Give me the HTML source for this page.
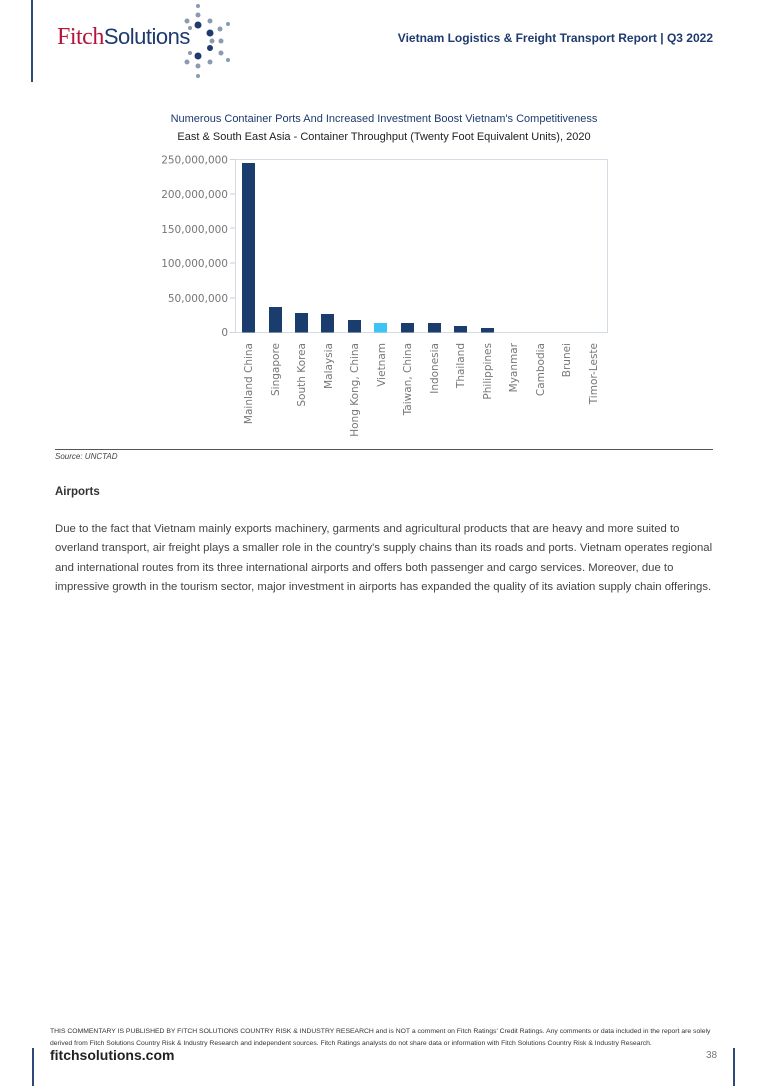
<!DOCTYPE html>
<html><head><meta charset="utf-8"><style>
body{margin:0;width:768px;height:1086px;position:relative;background:#fff;font-family:"Liberation Sans",sans-serif;overflow:hidden}
.a{position:absolute;white-space:nowrap}
</style></head><body>
<div class="a" style="left:31px;top:0;width:2px;height:82px;background:#2b4a7a"></div>
<div class="a" style="left:57px;top:24px;font-size:24px;font-family:'Liberation Serif',serif;color:#b5153c;letter-spacing:-0.5px">Fitch<span style="font-family:'Liberation Sans',sans-serif;color:#1e3a6e;font-size:22px">Solutions</span></div>
<svg class="a" style="left:178px;top:0" width="60" height="82">
<g fill="#1e3a6e"><circle cx="20" cy="25" r="3.5"/><circle cx="32" cy="33" r="3.5"/><circle cx="20" cy="56" r="3.5"/><circle cx="32" cy="48" r="3"/></g>
<g fill="#8a9ab5"><circle cx="20" cy="6" r="2"/><circle cx="20" cy="15" r="2.5"/><circle cx="9" cy="21" r="2.5"/><circle cx="32" cy="21" r="2.5"/><circle cx="42" cy="29" r="2.5"/><circle cx="50" cy="24" r="2"/><circle cx="43" cy="41" r="2.5"/><circle cx="43" cy="53" r="2.5"/><circle cx="50" cy="60" r="2"/><circle cx="32" cy="62" r="2.5"/><circle cx="9" cy="62" r="2.5"/><circle cx="20" cy="66" r="2.5"/><circle cx="20" cy="76" r="2"/><circle cx="34" cy="41" r="2.5"/><circle cx="12" cy="28" r="2"/><circle cx="12" cy="53" r="2"/></g>
</svg>
<div class="a" style="right:55px;top:31px;font-size:12px;font-weight:bold;color:#1e3a6e">Vietnam Logistics &amp; Freight Transport Report | Q3 2022</div>

<div class="a" style="left:0;width:768px;text-align:center;top:113px;font-size:11px;color:#1e3a6e">Numerous Container Ports And Increased Investment Boost Vietnam's Competitiveness</div>
<div class="a" style="left:0;width:768px;text-align:center;top:131px;font-size:11px;color:#222">East &amp; South East Asia - Container Throughput (Twenty Foot Equivalent Units), 2020</div>

<svg class="a" style="left:0;top:150px" width="768" height="300" font-family="DejaVu Sans,sans-serif" font-size="10.5" fill="#777">
<rect x="235.5" y="9.5" width="372" height="173" fill="none" stroke="#d5dbe3"/>
<g text-anchor="end">
<text x="228" y="13.5">250,000,000</text><text x="228" y="48">200,000,000</text><text x="228" y="83">150,000,000</text><text x="228" y="117">100,000,000</text><text x="228" y="152">50,000,000</text><text x="228" y="186">0</text>
</g>
<g stroke="#c8d2de"><line x1="230" y1="182.5" x2="235" y2="182.5"/><line x1="230" y1="148" x2="235" y2="148"/><line x1="230" y1="113" x2="235" y2="113"/><line x1="230" y1="78" x2="235" y2="78"/><line x1="230" y1="44" x2="235" y2="44"/><line x1="230" y1="9.5" x2="235" y2="9.5"/></g>
<g fill="#1a3d6e">
<rect x="242" y="13" width="13" height="169.5"/>
<rect x="269" y="157" width="13" height="25.5"/>
<rect x="295" y="163" width="13" height="19.5"/>
<rect x="321" y="164" width="13" height="18.5"/>
<rect x="348" y="170" width="13" height="12.5"/>
<rect x="401" y="173" width="13" height="9.5"/>
<rect x="428" y="173" width="13" height="9.5"/>
<rect x="454" y="176" width="13" height="6.5"/>
<rect x="481" y="178" width="13" height="4.5"/>
</g>
<rect x="374" y="173" width="13" height="9.5" fill="#3ec3f5"/>
<g font-size="10.5">
<text transform="translate(252,193) rotate(-90)" text-anchor="end">Mainland China</text>
<text transform="translate(279,193) rotate(-90)" text-anchor="end">Singapore</text>
<text transform="translate(305,193) rotate(-90)" text-anchor="end">South Korea</text>
<text transform="translate(332,193) rotate(-90)" text-anchor="end">Malaysia</text>
<text transform="translate(358,193) rotate(-90)" text-anchor="end">Hong Kong, China</text>
<text transform="translate(385,193) rotate(-90)" text-anchor="end">Vietnam</text>
<text transform="translate(411,193) rotate(-90)" text-anchor="end">Taiwan, China</text>
<text transform="translate(438,193) rotate(-90)" text-anchor="end">Indonesia</text>
<text transform="translate(464,193) rotate(-90)" text-anchor="end">Thailand</text>
<text transform="translate(491,193) rotate(-90)" text-anchor="end">Philippines</text>
<text transform="translate(517,193) rotate(-90)" text-anchor="end">Myanmar</text>
<text transform="translate(544,193) rotate(-90)" text-anchor="end">Cambodia</text>
<text transform="translate(570,193) rotate(-90)" text-anchor="end">Brunei</text>
<text transform="translate(597,193) rotate(-90)" text-anchor="end">Timor-Leste</text>
</g>
</svg>

<div class="a" style="left:55px;top:449px;width:658px;height:1px;background:#555"></div>
<div class="a" style="left:55px;top:452px;font-size:8px;font-style:italic;color:#444">Source: UNCTAD</div>
<div class="a" style="left:55px;top:486px;font-size:11.5px;font-weight:bold;color:#333">Airports</div>
<div class="a" style="left:55px;top:520px;font-size:11.35px;line-height:19.3px;color:#444">Due to the fact that Vietnam mainly exports machinery, garments and agricultural products that are heavy and more suited to<br>overland transport, air freight plays a smaller role in the country's supply chains than its roads and ports. Vietnam operates regional<br>and international routes from its three international airports and offers both passenger and cargo services. Moreover, due to<br>impressive growth in the tourism sector, major investment in airports has expanded the quality of its aviation supply chain offerings.</div>

<div class="a" style="left:50px;top:1026px;font-size:6.8px;line-height:11.5px;color:#333">THIS COMMENTARY IS PUBLISHED BY FITCH SOLUTIONS COUNTRY RISK &amp; INDUSTRY RESEARCH and is NOT a comment on Fitch Ratings' Credit Ratings. Any comments or data included in the report are solely<br>derived from Fitch Solutions Country Risk &amp; Industry Research and independent sources. Fitch Ratings analysts do not share data or information with Fitch Solutions Country Risk &amp; Industry Research.</div>
<div class="a" style="left:32px;top:1048px;width:2px;height:38px;background:#2b4a7a"></div>
<div class="a" style="left:733px;top:1048px;width:2px;height:38px;background:#2b4a7a"></div>
<div class="a" style="left:50px;top:1047px;font-size:14px;font-weight:bold;color:#222">fitchsolutions.com</div>
<div class="a" style="left:706px;top:1050px;font-size:10px;color:#777">38</div>
</body></html>
